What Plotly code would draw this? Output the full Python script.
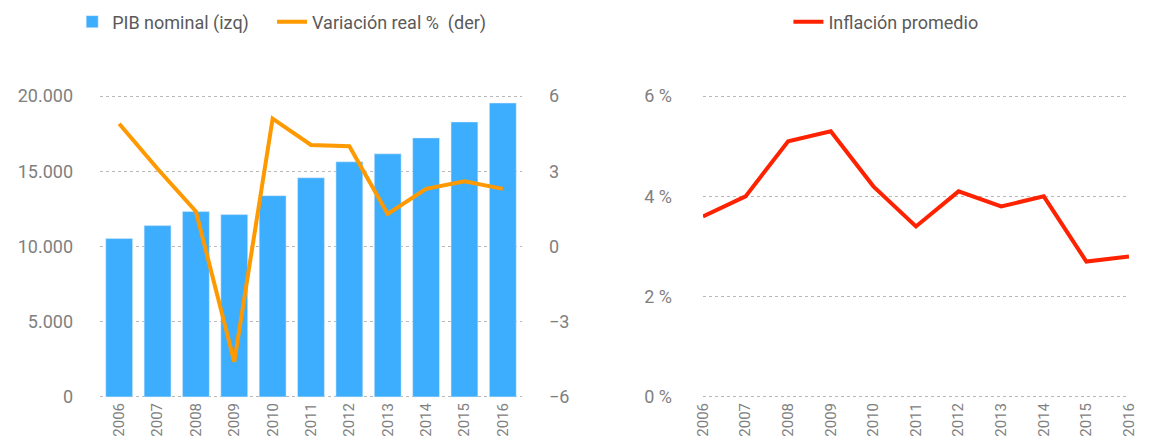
import plotly.graph_objects as go

years = ["2006", "2007", "2008", "2009", "2010", "2011", "2012", "2013", "2014", "2015", "2016"]
pib_nominal = [10530, 11390, 12320, 12120, 13380, 14570, 15630, 16160, 17220, 18280, 19540]
variacion_real = [4.9, 3.1, 1.4, -4.6, 5.1, 4.05, 4.0, 1.3, 2.3, 2.6, 2.3]
inflacion = [3.6, 4.0, 5.1, 5.3, 4.2, 3.4, 4.1, 3.8, 4.0, 2.7, 2.8]

FONT = "Roboto"
TICK = "#808080"
LEG = "#5a5a5a"
GRID = "#b8b8b8"

fig = go.Figure()

fig.add_trace(go.Bar(
    x=years, y=pib_nominal, name="PIB nominal (izq)", showlegend=True,
    marker_color="#3DAEFE", width=0.7, xaxis="x", yaxis="y", legend="legend",
))
fig.add_trace(go.Scatter(
    x=years, y=variacion_real, name="Variación real %  (der)", mode="lines",
    line=dict(color="#FF9900", width=4), xaxis="x", yaxis="y2", legend="legend3",
))
fig.add_trace(go.Scatter(
    x=years, y=inflacion, name="Inflación promedio", mode="lines",
    line=dict(color="#FF2200", width=4), xaxis="x2", yaxis="y3", legend="legend2",
))

xcommon = dict(
    type="category", tickangle=-90, showgrid=False, zeroline=False, showline=False,
    ticks="", tickfont=dict(size=15, color=TICK, family=FONT), automargin=False,
)
ycommon = dict(
    showline=False, zeroline=False, ticks="", automargin=False,
    tickfont=dict(size=18, color=TICK, family=FONT),
)


def legend_at(x):
    return dict(orientation="h", xref="container", yref="container", x=x, y=0.968,
                xanchor="left", yanchor="middle", visible=True,
                font=dict(size=18, color=LEG, family=FONT), bgcolor="rgba(0,0,0,0)")


# page body has an 8px margin, so the figure is sized to fill the rest of the window
# ranges padded ~2px so plotly doesn't clip the gridlines at the range ends
fig.update_layout(
    width=1146, height=436,
    margin=dict(l=92, r=24, t=86, b=45),
    paper_bgcolor="white", plot_bgcolor="white",
    showlegend=True,
    separators=",.",
    font=dict(family=FONT),
    xaxis=dict(domain=[0, 0.4097], anchor="y", **xcommon),
    yaxis=dict(range=[-140, 20140], dtick=5000, tickformat=",d", showgrid=True,
               gridcolor=GRID, griddash="dot", ticklabelstandoff=26, **ycommon),
    yaxis2=dict(range=[-6.084, 6.084], dtick=3, overlaying="y", side="right", anchor="x",
                showgrid=False, ticklabelstandoff=26, **ycommon),
    xaxis2=dict(domain=[0.5854, 0.999], anchor="y3", range=[0, 10], **xcommon),
    yaxis3=dict(range=[-0.042, 6.042], dtick=2, ticksuffix=" %", anchor="x2", showgrid=True,
                gridcolor=GRID, griddash="dot", ticklabelstandoff=30, **ycommon),
    legend=legend_at(0.056),
    legend3=legend_at(0.2304),
    legend2=legend_at(0.681),
)

fig.write_html("out.html")
